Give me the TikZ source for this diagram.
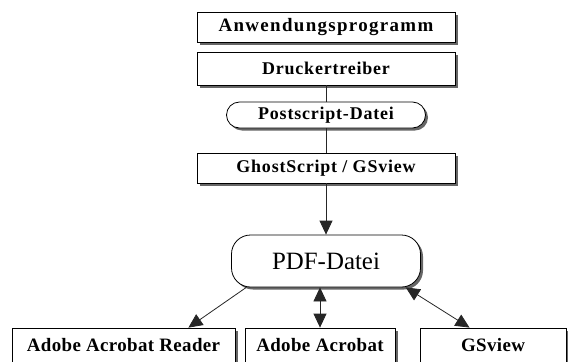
\documentclass[tikz,border=0pt]{standalone}
\usepackage{fontspec}
\setmainfont{Liberation Serif}
\usetikzlibrary{arrows.meta,calc,shadows}

\begin{document}
\begin{tikzpicture}[x=1bp,y=-1bp,
  box/.style={draw,fill=white,line width=0.8bp,inner sep=0pt,
    font=\bfseries\fontsize{18}{20}\selectfont\addfontfeature{LetterSpace=4.5},
    drop shadow={shadow xshift=2.5bp,shadow yshift=-2.5bp,fill=black!60,opacity=1}},
  pill/.style={box,rounded corners=13bp},
  viewer/.style={box,minimum height=34bp,font=\bfseries\fontsize{19}{21}\selectfont\addfontfeature{LetterSpace=2}},
  link/.style={draw=black!85,line width=0.8bp},
  tip/.style={-{Triangle[length=14bp,width=13bp]}},
  tips/.style={{Triangle[length=14bp,width=13bp]}-{Triangle[length=14bp,width=13bp]}}]
  \useasboundingbox (0,0) rectangle (568,361);
  \clip (0,0) rectangle (568,361);
  % Upper column
  \node[box,minimum width=258bp,minimum height=30bp,
    font=\bfseries\fontsize{19}{21}\selectfont\addfontfeature{LetterSpace=7}] (anw) at (326,27) {Anwendungsprogramm};
  \node[box,minimum width=258bp,minimum height=33bp] (druck) at (326,68.5) {Druckertreiber};
  \node[pill,minimum width=199bp,minimum height=26bp] (post) at (326,115) {Postscript-Datei};
  \node[box,minimum width=258bp,minimum height=30bp] (ghost) at (326,168) {GhostScript / GSview};
  % PDF file
  \node[pill,rounded corners=19bp,minimum width=189bp,minimum height=52bp,
    font=\fontsize{25}{28}\selectfont] (pdf) at (326,261) {PDF-Datei};
  % Viewers (cut off at the bottom)
  \node[viewer,minimum width=223bp] (reader) at (123.5,345) {Adobe Acrobat Reader};
  \node[viewer,minimum width=150bp] (acro) at (320,345) {Adobe Acrobat};
  \node[viewer,minimum width=146bp] (gsv) at (493,345) {GSview};
  % Connectors
  \draw[link] (druck) -- (post);
  \draw[link] (post) -- (ghost);
  \draw[link,tip] (ghost) -- (pdf);
  \draw[link,tip] ($(pdf.south west)!0.08!(pdf.south east)$) -- ($(reader.north west)!0.79!(reader.north east)$);
  \draw[link,tips] (acro.north |- pdf.south) -- (acro.north);
  \draw[link,tips] ($(pdf.south west)!0.92!(pdf.south east)$) -- ($(gsv.north west)!0.34!(gsv.north east)$);
\end{tikzpicture}
\end{document}
